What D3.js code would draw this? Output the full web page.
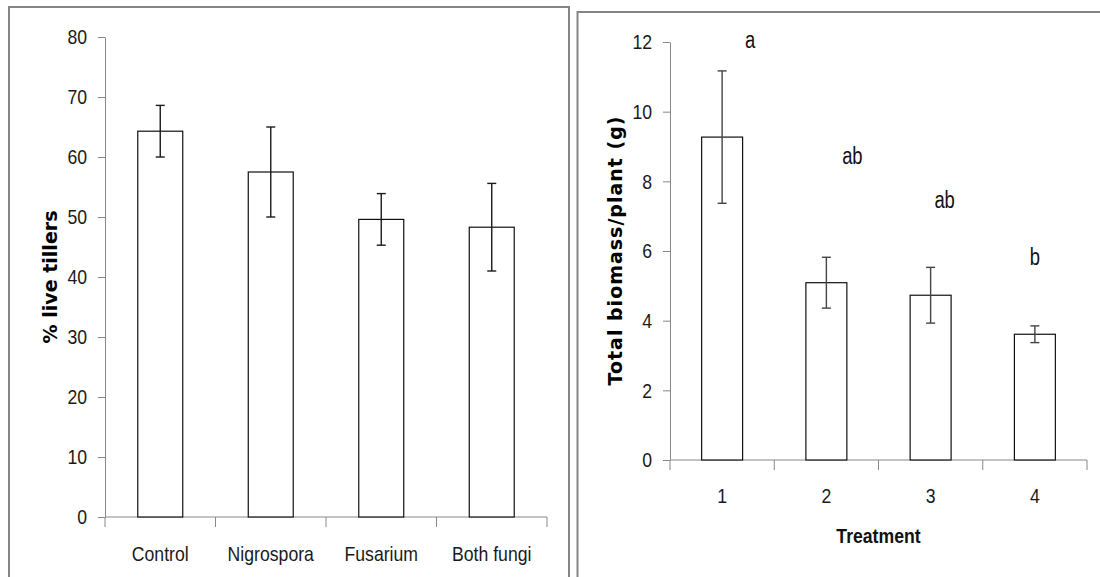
<!DOCTYPE html>
<html>
<head>
<meta charset="utf-8">
<script src="https://cdn.jsdelivr.net/npm/d3@7"></script>
<style>
  body { margin: 0; background: #fff; }
  svg { display: block; }
</style>
</head>
<body>
<svg id="fig"></svg>
<script>
// left panel: % live tillers
const tillerCats = ["Control", "Nigrospora", "Fusarium", "Both fungi"];
const tillerMean = [64.3, 57.5, 49.6, 48.3];
const tillerErr  = [4.3, 7.5, 4.3, 7.3];
const tillerTicks = [0, 10, 20, 30, 40, 50, 60, 70, 80];

// right panel: total biomass
const biomassCats = ["1", "2", "3", "4"];
const biomassMean = [9.27, 5.09, 4.73, 3.61];
const biomassErr  = [1.9, 0.73, 0.8, 0.24];
const biomassTicks = [0, 2, 4, 6, 8, 10, 12];
const biomassLetters = ["a", "ab", "ab", "b"];
const biomassLetterY = [11.83, 8.5, 7.23, 5.6];

const TICK_FONT = "'Liberation Sans', Arial, sans-serif";
const LABEL_FONT = "'DejaVu Sans', Verdana, sans-serif";

// squeeze text horizontally, the original uses a narrow face
function narrow(sel, k){
    sel.each(function(){
        const len = this.getComputedTextLength();
        d3.select(this)
            .attr('textLength', len * (k || 0.84))
            .attr('lengthAdjust', 'spacingAndGlyphs');
    });
}

class BarChart{
    constructor(config, data){
      this.config = {
          parent: config.parent,
          x0: config.x0, x1: config.x1,
          y0: config.y0, y1: config.y1,
          ymax: config.ymax,
          barFrac: config.barFrac || 0.4,
          errColor: config.errColor || "#222",
          tickLabelY: config.tickLabelY,
          ylabel: config.ylabel || "",
          ylabelX: config.ylabelX,
          ylabelLen: config.ylabelLen,
          xlabel: config.xlabel || "",
          xlabelY: config.xlabelY,
      };
      this.data = data;
      this.init();
    }
    init(){
      let self = this;
      const c = self.config;

      self.g = c.parent.append('g');

      self.xscale = d3.scaleBand()
          .domain(self.data.cats)
          .range([c.x0, c.x1])
          .padding(0);

      self.yscale = d3.scaleLinear()
          .domain([0, c.ymax])
          .range([c.y0, c.y1]);

      self.render();
    }
    render(){
      let self = this;
      const c = self.config;
      const x = self.xscale, y = self.yscale;
      const bw = x.bandwidth();
      const rows = self.data.cats.map((k, i) => ({ k, m: self.data.mean[i], e: self.data.err[i], i }));

      // y axis
      const yaxis = d3.axisLeft(y)
          .tickValues(self.data.ticks)
          .tickSize(7)
          .tickPadding(11)
          .tickSizeOuter(0);
      const yg = self.g.append('g')
          .attr('transform', `translate(${c.x0},0)`)
          .call(yaxis);
      yg.select('.domain').attr('stroke', '#888');
      yg.selectAll('.tick line').attr('stroke', '#888');
      yg.selectAll('.tick text')
          .attr('font-family', TICK_FONT)
          .attr('font-size', 21)
          .attr('fill', '#1a1a1a')
          .call(narrow);

      // x axis line and category boundary ticks
      self.g.append('line')
          .attr('x1', c.x0).attr('x2', c.x1)
          .attr('y1', y(0)).attr('y2', y(0))
          .attr('stroke', '#888');
      const bounds = self.data.cats.map(k => x(k)).concat([x(self.data.cats[self.data.cats.length - 1]) + bw]);
      self.g.selectAll('line.bt')
          .data(bounds)
          .join('line')
          .attr('class', 'bt')
          .attr('x1', d => d).attr('x2', d => d)
          .attr('y1', y(0)).attr('y2', y(0) + 10)
          .attr('stroke', '#888');

      self.g.selectAll('text.xt')
          .data(rows)
          .join('text')
          .attr('class', 'xt')
          .attr('x', d => x(d.k) + bw / 2)
          .attr('y', c.tickLabelY)
          .attr('text-anchor', 'middle')
          .attr('font-family', TICK_FONT)
          .attr('font-size', 21)
          .attr('fill', '#1a1a1a')
          .text(d => d.k)
          .call(narrow);

      // bars
      const w = bw * c.barFrac;
      self.g.selectAll('rect.bar')
          .data(rows)
          .join('rect')
          .attr('class', 'bar')
          .attr('x', d => x(d.k) + (bw - w) / 2)
          .attr('y', d => y(d.m))
          .attr('width', w)
          .attr('height', d => y(0) - y(d.m))
          .attr('fill', '#fff')
          .attr('stroke', '#111')
          .attr('stroke-width', 1.2);

      // error bars
      const eb = self.g.selectAll('g.err')
          .data(rows)
          .join('g')
          .attr('class', 'err')
          .attr('stroke', c.errColor)
          .attr('stroke-width', 1.4);
      eb.append('line')
          .attr('x1', d => x(d.k) + bw / 2).attr('x2', d => x(d.k) + bw / 2)
          .attr('y1', d => y(d.m + d.e)).attr('y2', d => y(d.m - d.e));
      eb.append('line')
          .attr('x1', d => x(d.k) + bw / 2 - 4.5).attr('x2', d => x(d.k) + bw / 2 + 4.5)
          .attr('y1', d => y(d.m + d.e)).attr('y2', d => y(d.m + d.e));
      eb.append('line')
          .attr('x1', d => x(d.k) + bw / 2 - 4.5).attr('x2', d => x(d.k) + bw / 2 + 4.5)
          .attr('y1', d => y(d.m - d.e)).attr('y2', d => y(d.m - d.e));

      // axis titles
      const ymid = (c.y0 + c.y1) / 2;
      self.g.append('text')
          .attr('transform', `translate(${c.ylabelX},${ymid}) rotate(-90)`)
          .attr('text-anchor', 'middle')
          .attr('font-family', LABEL_FONT)
          .attr('font-weight', 'bold')
          .attr('font-size', 19)
          .attr('textLength', c.ylabelLen)
          .attr('lengthAdjust', 'spacing')
          .text(c.ylabel);

      if (c.xlabel) {
        self.g.append('text')
            .attr('x', (c.x0 + c.x1) / 2)
            .attr('y', c.xlabelY)
            .attr('text-anchor', 'middle')
            .attr('font-family', TICK_FONT)
            .attr('font-weight', 'bold')
            .attr('font-size', 21)
            .attr('fill', '#111')
            .text(c.xlabel)
            .call(narrow);
      }
    }
    letters(labels, heights, offsets){
      let self = this;
      const x = self.xscale, y = self.yscale;
      self.g.selectAll('text.sig')
          .data(labels.map((t, i) => ({ t, h: heights[i], k: self.data.cats[i], dx: offsets[i] })))
          .join('text')
          .attr('class', 'sig')
          .attr('x', d => x(d.k) + x.bandwidth() / 2 + d.dx)
          .attr('y', d => y(d.h))
          .attr('text-anchor', 'middle')
          .attr('font-family', TICK_FONT)
          .attr('font-size', 23)
          .attr('fill', '#111')
          .text(d => d.t)
          .call(narrow, 0.8);
    }
}

const svg = d3.select('#fig')
    .attr('width', 1100)
    .attr('height', 577);

// panel frames (they run off the picture edge)
svg.append('path')
    .attr('d', 'M9,600 V7 H569 V600')
    .attr('fill', 'none')
    .attr('stroke', '#858585')
    .attr('stroke-width', 2);
svg.append('path')
    .attr('d', 'M577.5,600 V12 H1110')
    .attr('fill', 'none')
    .attr('stroke', '#858585')
    .attr('stroke-width', 2);

const left = new BarChart({
    parent: svg,
    x0: 105, x1: 547, y0: 517, y1: 37, ymax: 80,
    barFrac: 0.407,
    errColor: '#1a1a1a',
    tickLabelY: 561,
    ylabel: '% live tillers',
    ylabelX: 57,
    ylabelLen: 133,
}, { cats: tillerCats, mean: tillerMean, err: tillerErr, ticks: tillerTicks });

const right = new BarChart({
    parent: svg,
    x0: 670, x1: 1087, y0: 460, y1: 42, ymax: 12,
    barFrac: 0.393,
    errColor: '#444',
    tickLabelY: 503,
    ylabel: 'Total biomass/plant (g)',
    ylabelX: 622,
    ylabelLen: 269,
    xlabel: 'Treatment',
    xlabelY: 543,
}, { cats: biomassCats, mean: biomassMean, err: biomassErr, ticks: biomassTicks });

right.letters(biomassLetters, biomassLetterY, [28, 26, 14, 0]);
</script>
</body>
</html>
